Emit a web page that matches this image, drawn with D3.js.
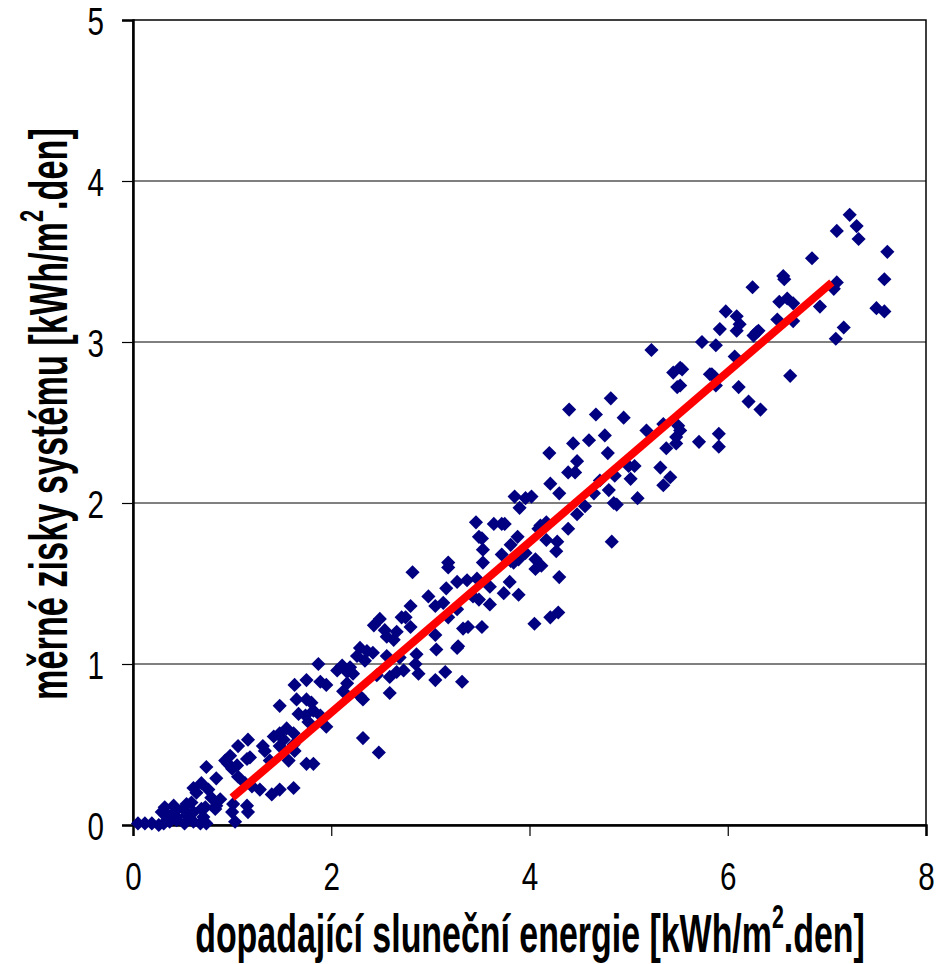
<!DOCTYPE html>
<html lang="cs">
<head>
  <meta charset="UTF-8">
  <title>Měrné zisky systému</title>
  <script src="https://d3js.org/d3.v7.min.js"></script>
  <style>
    body { margin: 0; background: #fff; }
    text { font-family: "Liberation Sans", Arial, sans-serif; }
  </style>
</head>
<body>
  <svg width="946" height="964"></svg>
  <script>
    // measured days: [incident solar energy, specific system gain], kWh/m2.den
    const measured = [
      [7.23,3.79],[7.10,3.69],[7.30,3.72],[7.32,3.64],[7.61,3.56],[6.85,3.52],[6.56,3.41],[6.57,3.39],
      [6.25,3.34],[7.58,3.39],[7.10,3.37],[7.07,3.33],[6.52,3.25],[6.60,3.27],[6.66,3.24],[6.93,3.22],
      [7.50,3.21],[7.58,3.19],[5.98,3.19],[6.09,3.16],[6.12,3.11],[6.09,3.07],[5.92,3.08],[6.31,3.07],
      [6.26,3.04],[6.50,3.14],[6.66,3.13],[7.17,3.09],[7.09,3.02],[5.74,3.00],[5.88,2.98],[6.07,2.91],
      [5.54,2.83],[5.84,2.80],[6.63,2.79],[5.52,2.73],[6.11,2.72],[6.21,2.63],[6.33,2.58],[6.29,3.06],
      [5.23,2.95],[5.52,2.84],[5.45,2.81],[5.49,2.72],[5.82,2.80],[5.87,2.78],[5.88,2.73],[4.82,2.65],
      [4.95,2.53],[4.76,2.42],[4.79,2.31],[5.18,2.45],[5.35,2.49],[5.50,2.48],[5.52,2.45],[5.48,2.41],
      [5.48,2.37],[5.38,2.34],[5.71,2.38],[5.91,2.43],[5.91,2.35],[4.86,2.17],[5.00,2.23],[5.06,2.23],
      [5.02,2.15],[5.32,2.22],[5.42,2.16],[5.35,2.11],[4.80,2.08],[4.85,2.00],[4.88,1.99],[5.09,2.03],
      [4.71,2.14],[4.40,2.58],[4.67,2.55],[4.20,2.31],[4.44,2.37],[4.60,2.39],[4.48,2.26],[4.39,2.19],
      [4.46,2.19],[4.21,2.12],[4.30,2.06],[4.65,2.06],[4.56,1.98],[4.48,1.93],[4.39,1.84],[4.11,1.86],
      [3.85,2.04],[3.96,2.03],[4.02,2.04],[3.90,1.97],[4.83,1.76],[3.46,1.88],[3.64,1.87],[3.72,1.87],
      [3.75,1.87],[3.49,1.79],[3.52,1.78],[3.88,1.79],[3.53,1.71],[3.18,1.63],[3.18,1.60],[3.53,1.63],
      [3.72,1.68],[3.81,1.74],[3.89,1.65],[4.09,1.84],[4.17,1.88],[4.17,1.77],[4.28,1.76],[4.27,1.70],
      [4.06,1.65],[4.06,1.59],[4.12,1.61],[3.96,1.69],[3.81,1.64],[4.30,1.54],[3.16,1.47],[3.27,1.51],
      [3.37,1.52],[3.47,1.53],[3.60,1.48],[3.74,1.44],[3.80,1.51],[3.89,1.43],[3.49,1.40],[3.60,1.37],
      [3.43,1.42],[3.13,1.38],[3.27,1.34],[3.18,1.29],[4.05,1.25],[4.21,1.29],[4.29,1.32],[3.33,1.22],
      [3.38,1.23],[3.52,1.23],[3.28,1.11],[3.84,1.63],[2.82,1.57],[2.98,1.42],[3.05,1.36],[2.80,1.36],
      [2.71,1.29],[2.75,1.29],[2.49,1.28],[2.43,1.24],[2.54,1.21],[2.56,1.17],[2.66,1.20],[2.63,1.15],
      [2.80,1.23],[2.29,1.10],[2.36,1.08],[2.42,1.07],[2.34,1.02],[2.26,1.05],[2.56,1.05],[2.69,1.04],
      [2.73,0.96],[2.86,1.06],[2.85,1.00],[3.05,1.18],[3.06,1.09],[3.27,1.10],[1.87,1.00],[2.06,0.96],
      [2.16,0.95],[2.22,0.94],[1.75,0.90],[1.89,0.89],[1.95,0.87],[2.16,0.88],[2.12,0.83],[2.29,0.80],
      [2.46,0.93],[2.59,0.92],[2.66,0.95],[2.88,0.94],[3.05,0.90],[3.15,0.95],[3.32,0.89],[2.59,0.82],
      [2.11,0.99],[2.19,0.98],[2.32,0.78],[1.63,0.87],[1.65,0.78],[1.75,0.78],[1.80,0.76],[1.82,0.71],
      [1.48,0.74],[1.67,0.69],[1.74,0.68],[1.77,0.64],[1.89,0.68],[1.95,0.61],[1.55,0.60],[1.48,0.57],
      [1.42,0.55],[1.62,0.57],[1.52,0.53],[1.48,0.49],[1.16,0.53],[1.06,0.49],[1.18,0.42],[1.31,0.49],
      [0.98,0.43],[0.96,0.38],[1.05,0.37],[1.33,0.46],[1.38,0.40],[1.63,0.46],[1.57,0.40],[1.75,0.38],
      [1.82,0.38],[0.74,0.36],[1.62,0.50],[1.15,0.41],[0.84,0.29],[1.28,0.22],[1.40,0.19],[1.48,0.22],
      [1.62,0.23],[0.61,0.23],[0.69,0.26],[0.64,0.20],[0.76,0.22],[0.79,0.17],[0.88,0.16],[0.84,0.12],
      [0.32,0.11],[0.41,0.12],[0.51,0.10],[0.42,0.08],[1.01,0.13],[1.00,0.08],[1.15,0.12],[1.16,0.08],
      [1.03,0.02],[0.05,0.01],[0.12,0.01],[0.19,0.01],[0.26,0.00],[0.31,0.01],[0.37,0.02],[0.44,0.03],
      [0.52,0.01],[0.61,0.02],[0.68,0.01],[0.74,0.01],[0.34,0.07],[0.44,0.05],[0.54,0.06],[0.61,0.08],
      [0.71,0.05],[0.69,0.10],[0.59,0.14],[0.54,0.13],[0.93,0.40],[1.00,0.35],[1.06,0.30],[1.13,0.26],
      [1.20,0.24],[0.29,0.08],[0.73,0.11],[0.83,0.10],[2.48,0.45],[2.32,0.54]
    ];

    // linear trend line end points
    const trendX = [1.0, 7.05];
    const trendY = [0.17, 3.37];

    const xTicks = [0, 2, 4, 6, 8];
    const yTicks = [0, 1, 2, 3, 4, 5];

    const margin = {top: 20, right: 20, bottom: 139, left: 133};
    const width = 946 - margin.left - margin.right;
    const height = 964 - margin.top - margin.bottom;

    const squeeze = 0.76;   // the original lettering is condensed

    const svg = d3.select("svg");
    const g = svg.append("g")
        .attr("transform", `translate(${margin.left},${margin.top})`);

    const x = d3.scaleLinear().domain([0, 8]).range([0, width]);
    const y = d3.scaleLinear().domain([0, 5]).range([height, 0]);

    // horizontal grid
    g.append("g")
      .selectAll("line")
      .data(yTicks.slice(1, -1))
      .join("line")
        .attr("x1", 0)
        .attr("x2", width)
        .attr("y1", d => y(d))
        .attr("y2", d => y(d))
        .attr("stroke", "#000")
        .attr("stroke-width", 1);

    // plot border
    g.append("rect")
        .attr("width", width)
        .attr("height", height)
        .attr("fill", "none")
        .attr("stroke", "#000")
        .attr("stroke-width", 1.5);

    const xAxis = g.append("g")
        .attr("transform", `translate(0,${height})`)
        .call(d3.axisBottom(x).tickValues(xTicks).tickSize(11).tickFormat(d3.format("d")));

    const yAxis = g.append("g")
        .call(d3.axisLeft(y).tickValues(yTicks).tickSize(11).tickFormat(d3.format("d")));

    [xAxis, yAxis].forEach(a => {
      a.select(".domain").attr("stroke-width", 2.5);
      a.selectAll(".tick line").attr("stroke-width", 1.2);
      a.selectAll(".tick text")
          .attr("font-family", "'Liberation Sans', Arial, sans-serif")
          .attr("font-size", 39)
          .attr("fill", "#000")
          .attr("transform", `scale(${squeeze},1)`);
    });
    xAxis.selectAll(".tick text").attr("y", 65).attr("dy", 0);
    yAxis.selectAll(".tick text").attr("x", -29 / squeeze).attr("dy", "0.36em");

    // points
    const diamond = d3.symbol().type(d3.symbolSquare).size(100);
    g.append("g")
        .attr("fill", "#000080")
      .selectAll("path")
      .data(measured)
      .join("path")
        .attr("d", diamond)
        .attr("transform", d => `translate(${x(d[0])},${y(d[1])}) rotate(45)`);

    // trend line
    g.append("line")
        .attr("x1", x(trendX[0]))
        .attr("y1", y(trendY[0]))
        .attr("x2", x(trendX[1]))
        .attr("y2", y(trendY[1]))
        .attr("stroke", "#ff0000")
        .attr("stroke-width", 8);

    // axis titles, fitted to the span they take in the original
    function title(parent, main, target) {
      const t = parent.append("text")
          .attr("text-anchor", "middle")
          .attr("font-size", 54)
          .attr("font-weight", "bold");
      t.append("tspan").text(main);
      t.append("tspan").attr("dy", -24).attr("font-size", 34).text("2");
      t.append("tspan").attr("dy", 24).text(".den]");
      const len = t.node().getComputedTextLength();
      t.attr("transform", `scale(${target / len},1)`);
      return t;
    }

    title(svg.append("g").attr("transform", "translate(530,952)"),
          "dopadající sluneční energie [kWh/m", 670);

    title(svg.append("g").attr("transform", "translate(67,414) rotate(-90)"),
          "měrné zisky systému [kWh/m", 572);
  </script>
</body>
</html>
